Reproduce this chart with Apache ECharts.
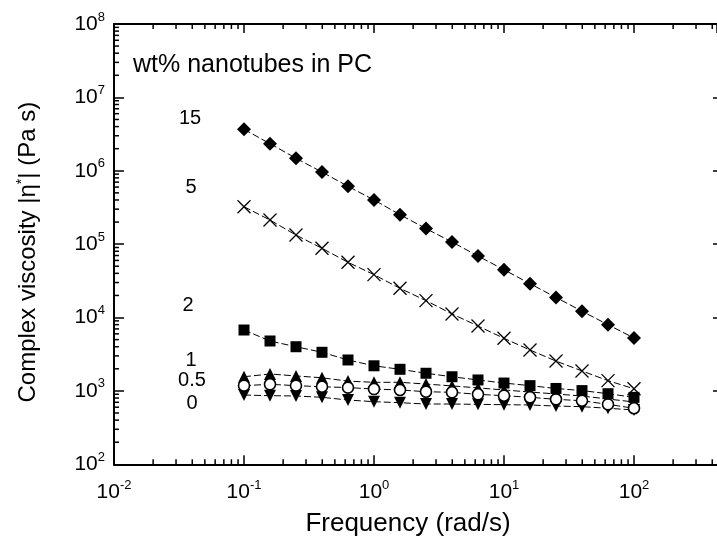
<!DOCTYPE html>
<html><head><meta charset="utf-8">
<script src="https://cdn.jsdelivr.net/npm/echarts@6/dist/echarts.min.js"></script>
<style>html,body{margin:0;padding:0;background:#fff}#c{width:717px;height:537px}</style>
</head><body><div id="c"></div>
<script>
// Frequency (rad/s)
const freq = [0.1, 0.1585, 0.2512, 0.3981, 0.631, 1, 1.585, 2.512, 3.981, 6.31, 10, 15.85, 25.12, 39.81, 63.1, 100];
// Complex viscosity |eta*| (Pa s) for each nanotube loading (wt%)
const wt15 = [3.67e6, 2.34e6, 1.48e6, 9.6e5, 6.14e5, 4.0e5, 2.52e5, 1.63e5, 1.07e5, 6.89e4, 4.48e4, 2.89e4, 1.88e4, 1.22e4, 7.98e3, 5.26e3];
const wt5  = [3.24e5, 2.13e5, 1.33e5, 8.78e4, 5.66e4, 3.84e4, 2.50e4, 1.70e4, 1.12e4, 7.66e3, 5.21e3, 3.61e3, 2.55e3, 1.87e3, 1.38e3, 1.07e3];
const wt2  = [6760, 4790, 4000, 3360, 2640, 2200, 1970, 1740, 1560, 1410, 1280, 1180, 1080, 1010, 916, 817];
const wt1  = [1560, 1700, 1600, 1510, 1360, 1310, 1310, 1240, 1170, 1100, 1030, 966, 908, 851, 776, 706];
const wt05 = [1180, 1230, 1180, 1140, 1110, 1060, 1030, 976, 957, 899, 861, 818, 768, 735, 656, 580];
const wt0  = [879, 861, 853, 818, 752, 713, 691, 663, 663, 656, 649, 643, 622, 610, 580, 550];
const seriesNames = ['0', '1', '0.5', '2', '5', '15'];
const loadingLabels = ['15', '5', '2', '1', '0.5', '0'];
const headerText = 'wt% nanotubes in PC';
const xTitle = 'Frequency (rad/s)';

const xMin = 0.01, xMax = 435, yMin = 100, yMax = 1e8;
const minorMult = [2, 3, 4, 5, 6, 7, 8, 9];
const xMinor = [];
for (let d = -2; d <= 2; d++) for (const k of minorMult) { const v = k * Math.pow(10, d); if (v < xMax) xMinor.push(v); }
const yMinor = [];
for (let d = 2; d <= 7; d++) for (const k of minorMult) yMinor.push(k * Math.pow(10, d));

const FONT = '"Liberation Sans", Arial, Helvetica, sans-serif';
function supLabel(v) {
  const e = Math.log10(v), r = Math.round(e);
  if (Math.abs(e - r) > 1e-6) return '';
  return '{b|10}{s|' + r + '}';
}
const rich = {
  b: { fontSize: 21, fontFamily: FONT, color: '#000', lineHeight: 22 },
  s: { fontSize: 13, fontFamily: FONT, color: '#000', lineHeight: 14, padding: [0, 0, 14, 0] }
};
const pair = arr => freq.map((f, i) => [f, arr[i]]);
const dash = { color: '#000', width: 1, type: [7, 3] };
function line(name, arr, symbol, size, itemStyle) {
  return { name, type: 'line', data: pair(arr), symbol, symbolSize: size, showSymbol: true,
    lineStyle: dash, itemStyle, z: 3, emphasis: { disabled: true } };
}
const black = { color: '#000', borderWidth: 0 };
const txt = (t, x, y, size, align) => ({ type: 'text', x, y,
  style: { text: t, fontSize: size, fontFamily: FONT, fill: '#000', align, verticalAlign: 'middle' } });

const chart = echarts.init(document.getElementById('c'), null, { renderer: 'canvas' });
chart.setOption({
  animation: false,
  backgroundColor: '#fff',
  grid: { left: 114, right: 0, top: 24, bottom: 72.7, containLabel: false, outerBoundsMode: 'none' },
  xAxis: [
    { type: 'log', logBase: 10, min: xMin, max: xMax, position: 'bottom',
      name: xTitle, nameLocation: 'middle', nameGap: 47,
      nameTextStyle: { fontSize: 26, fontFamily: FONT, color: '#000', padding: [0, 15, 0, 0] },
      axisLine: { show: true, lineStyle: { color: '#000', width: 2 } },
      axisTick: { show: true, inside: true, length: 9, lineStyle: { color: '#000', width: 1.5 } },
      axisLabel: { formatter: supLabel, rich, margin: 17, showMaxLabel: false },
      splitLine: { show: false } },
    { type: 'log', logBase: 10, min: xMin, max: xMax, position: 'top',
      axisLine: { show: true, lineStyle: { color: '#000', width: 2 } },
      axisTick: { show: true, inside: true, length: 9, lineStyle: { color: '#000', width: 1.5 } },
      axisLabel: { show: false }, splitLine: { show: false } }
  ],
  yAxis: [
    { type: 'log', logBase: 10, min: yMin, max: yMax, position: 'left',
      name: '{n|Complex viscosity |η}{sp|*}{n|| (Pa s)}', nameLocation: 'middle', nameGap: 73, nameRotate: 90,
      nameTextStyle: { padding: [0, 16, 0, 0], rich: { n: { fontSize: 24, fontFamily: FONT, color: '#000' },
        sp: { fontSize: 14, fontFamily: FONT, color: '#000', padding: [0, 0, 12, 0] } } },
      axisLine: { show: true, lineStyle: { color: '#000', width: 2 } },
      axisTick: { show: true, inside: true, length: 10, lineStyle: { color: '#000', width: 1.5 } },
      axisLabel: { formatter: supLabel, rich, margin: 9 },
      splitLine: { show: false } },
    { type: 'log', logBase: 10, min: yMin, max: yMax, position: 'right',
      axisLine: { show: false },
      axisTick: { show: true, inside: true, length: 4, lineStyle: { color: '#000', width: 1.5 } },
      axisLabel: { show: false }, splitLine: { show: false } }
  ],
  series: [
    line(seriesNames[0], wt0, 'path://M0,0L2,0L1,2Z', [12, 12], black),
    line(seriesNames[1], wt1, 'triangle', [12, 12], black),
    line(seriesNames[2], wt05, 'circle', 11, { color: '#fff', borderColor: '#000', borderWidth: 1.6 }),
    line(seriesNames[3], wt2, 'rect', 11, black),
    line(seriesNames[4], wt5, 'path://M0,0L10,10M10,0L0,10', 13, { color: 'none', borderColor: '#000', borderWidth: 1.3 }),
    line(seriesNames[5], wt15, 'diamond', 14, black),
    { type: 'custom', silent: true, clip: false, z: 4, xAxisIndex: 0, yAxisIndex: 0,
      data: xMinor.map(v => [v, yMin]),
      renderItem: (p, api) => {
        const v = api.value(0);
        const b = api.coord([v, yMin]), t = api.coord([v, yMax]);
        return { type: 'group', children: [
          { type: 'line', shape: { x1: b[0], y1: b[1], x2: b[0], y2: b[1] - 5 }, style: { stroke: '#000', lineWidth: 1.5 } },
          { type: 'line', shape: { x1: t[0], y1: t[1], x2: t[0], y2: t[1] + 5 }, style: { stroke: '#000', lineWidth: 1.5 } }
        ] };
      } },
    { type: 'custom', silent: true, clip: false, z: 4, xAxisIndex: 0, yAxisIndex: 0,
      data: yMinor.map(v => [xMin, v]),
      renderItem: (p, api) => {
        const v = api.value(1);
        const l = api.coord([xMin, v]);
        return { type: 'line', shape: { x1: l[0], y1: l[1], x2: l[0] + 5, y2: l[1] }, style: { stroke: '#000', lineWidth: 1.5 } };
      } }
  ],
  graphic: [
    txt(headerText, 133, 65, 25, 'left'),
    txt(loadingLabels[0], 190, 118, 20, 'center'),
    txt(loadingLabels[1], 191, 187, 20, 'center'),
    txt(loadingLabels[2], 188, 305, 20, 'center'),
    txt(loadingLabels[3], 191, 360, 20, 'center'),
    txt(loadingLabels[4], 192, 380, 20, 'center'),
    txt(loadingLabels[5], 192, 403, 20, 'center')
  ]
});
</script></body></html>
